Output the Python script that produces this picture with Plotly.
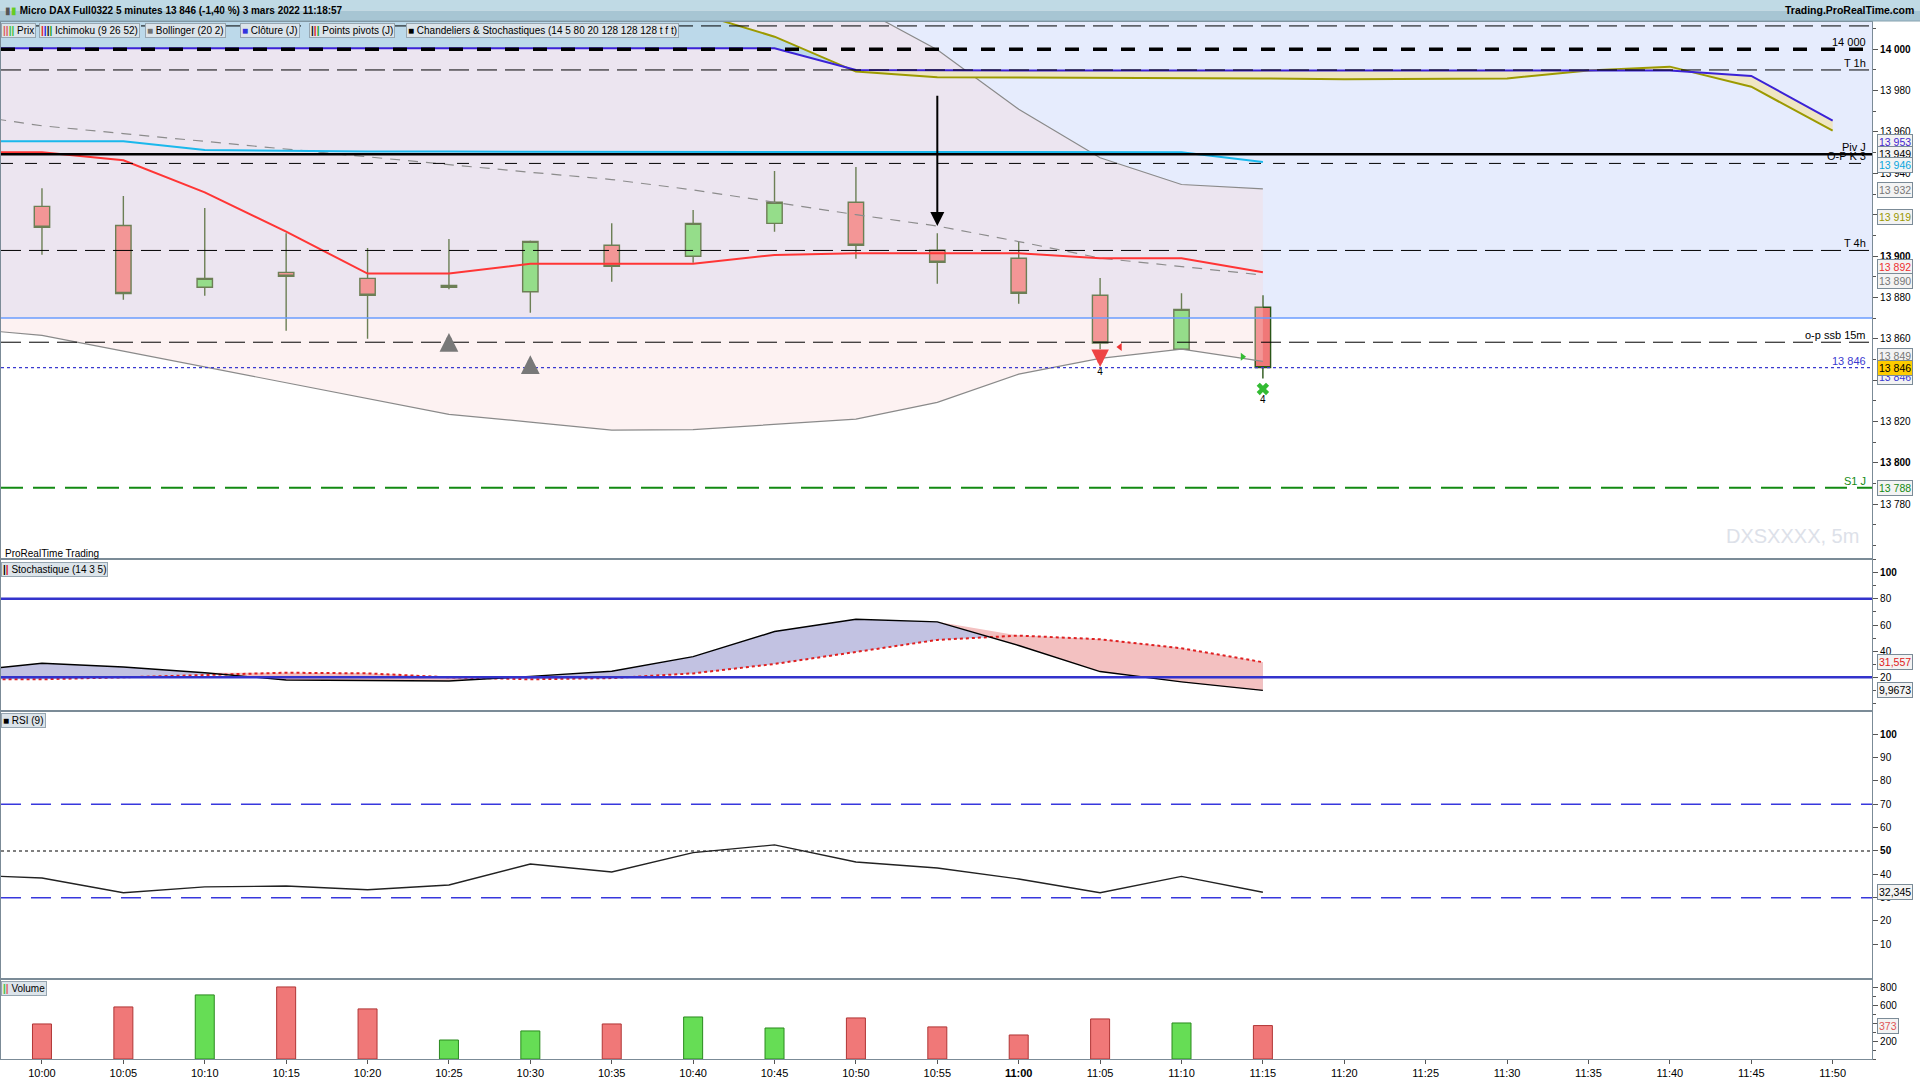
import numpy as np
import pandas as pd
import plotly.graph_objects as go
from plotly.subplots import make_subplots

DAY = "2022-03-03 "
FONT = "Liberation Sans, Arial, sans-serif"

# --- 5 minute bars -------------------------------------------------------
candle_times = ["10:00", "10:05", "10:10", "10:15", "10:20", "10:25", "10:30", "10:35",
                "10:40", "10:45", "10:50", "10:55", "11:00", "11:05", "11:10", "11:15"]
open_px = [13924.0, 13914.8, 13884.9, 13892.1, 13889.2, 13884.9, 13882.7, 13905.2,
           13899.9, 13915.8, 13926.0, 13902.8, 13898.9, 13881.0, 13854.9, 13875.2]
high_px = [13932.8, 13929.0, 13923.2, 13911.0, 13903.9, 13908.2, 13907.5, 13915.9,
           13922.3, 13941.1, 13943.1, 13911.0, 13906.9, 13889.4, 13882.0, 13881.0]
low_px = [13900.6, 13878.9, 13880.8, 13863.9, 13860.0, 13883.9, 13872.6, 13887.6,
          13896.8, 13911.8, 13898.7, 13886.6, 13876.9, 13854.9, 13854.9, 13840.7]
close_px = [13913.9, 13881.9, 13889.2, 13890.2, 13881.0, 13885.8, 13907.1, 13895.0,
            13915.8, 13926.0, 13905.2, 13897.0, 13882.0, 13857.9, 13874.2, 13846.0]
volume = [391, 581, 715, 804, 559, 212, 313, 391, 469, 346, 458, 358, 268, 447, 402, 373]

# --- indicators (one extra bar on the left, 09:55) -----------------------
ind_times = ["09:55"] + candle_times
tenkan = [13950.2, 13950.2, 13946.3, 13930.8, 13911.8, 13891.5, 13891.5, 13896.3, 13896.3,
          13896.3, 13900.5, 13901.3, 13901.3, 13901.3, 13898.9, 13898.9, 13892.1]
kijun = [13955.5, 13955.5, 13955.5, 13951.3, 13950.8, 13950.6, 13950.5, 13950.5, 13950.5,
         13950.5, 13950.4, 13950.4, 13950.3, 13950.3, 13950.2, 13950.2, 13945.5]
bb_upper = [14072.5, 14064.0, 14064.5, 14064.4, 14064.7, 14065.0, 14065.0, 14061.3, 14058.2,
            14048.0, 14033.4, 14021.0, 13999.8, 13971.0, 13947.5, 13934.6, 13932.5]
bb_mid = [13968.8, 13963.0, 13959.2, 13955.4, 13951.7, 13948.0, 13944.2, 13940.5, 13937.0,
          13932.0, 13926.0, 13920.0, 13914.5, 13907.0, 13899.0, 13895.0, 13890.8]
bb_lower = [13865.1, 13861.6, 13854.0, 13846.4, 13838.7, 13831.0, 13823.4, 13819.7, 13815.8,
            13816.0, 13818.6, 13821.1, 13829.2, 13842.9, 13850.5, 13855.0, 13849.0]
stoch_k = [24.3, 30.7, 27.9, 23.5, 17.9, 17.7, 17.2, 20.7, 24.6,
           35.8, 55.0, 64.4, 62.4, 44.3, 24.4, 16.5, 9.97]
stoch_d = [18.5, 18.5, 20.0, 22.0, 23.5, 23.0, 20.0, 18.5, 19.4,
           23.0, 30.2, 39.4, 48.6, 51.9, 49.1, 42.2, 31.56]
rsi = [39.8, 38.4, 32.1, 34.6, 35.0, 33.4, 35.4, 44.4, 41.0,
       49.3, 52.6, 45.3, 42.7, 38.0, 32.1, 39.1, 32.3]

# --- ichimoku spans, projected forward -----------------------------------
future_times = ["11:20", "11:25", "11:30", "11:35", "11:40", "11:45", "11:50"]
cloud_times = ind_times + future_times
span_a = [14000.5, 14000.5, 14000.5, 14000.5, 14000.5, 14000.5, 14000.5, 14000.5,
          14000.5, 14000.5, 14000.5, 13990.0, 13989.7, 13989.7, 13989.7, 13989.7,
          13989.7, 13989.7, 13989.7, 13989.7, 13989.7, 13989.7, 13987.1, 13965.5]
span_b = [14032.0, 14032.0, 14031.0, 14030.0, 14029.0, 14028.0, 14027.0, 14025.0,
          14022.0, 14018.0, 14006.1, 13989.2, 13986.5, 13986.3, 13986.2, 13986.0,
          13985.9, 13985.5, 13985.6, 13985.9, 13989.7, 13991.6, 13981.9, 13960.6]
zone_low = 13870.0

axis_times = candle_times + future_times

# --- horizontal levels ---------------------------------------------------
level_names = ["top", "14 000", "T 1h", "Piv J", "O-P K 3", "T 4h", "o-p ssb 15m", "13 846", "S1 J"]
level_values = [14011.3, 14000.0, 13990.0, 13949.2, 13944.8, 13902.7, 13858.3, 13846.0, 13787.9]
level_style = {
    "top": dict(color="black", width=1, dash="20px,8px", label=False),
    "14 000": dict(color="black", width=3.5, dash="14px,14px", label=True),
    "T 1h": dict(color="black", width=1, dash="20px,8px", label=True),
    "Piv J": dict(color="black", width=2.5, dash="solid", label=True),
    "O-P K 3": dict(color="black", width=1, dash="12px,12px", label=True),
    "T 4h": dict(color="black", width=1, dash="20px,8px", label=True),
    "o-p ssb 15m": dict(color="black", width=1, dash="20px,8px", label=True),
    "13 846": dict(color="#3a3ad0", width=1.2, dash="3px,3px", label=True),
    "S1 J": dict(color="#138a13", width=2, dash="22px,10px", label=True),
}

# signals
sell_arrow_time, sell_arrow_tip, sell_arrow_tail = "10:55", 13914.5, 13978.3
up_arrow_times, up_arrow_tip = ["10:25", "10:30"], [13862.8, 13852.0]
down_arrow_times, down_arrow_tip = ["11:05"], [13846.3]
cross_times, cross_y = ["11:15"], [13835.7]
count_times, count_y, count_text = ["11:05", "11:15"], [13843.9, 13830.3], ["4", "4"]
tri_left_times, tri_left_y = ["11:06:13"], [13856.0]
tri_right_times, tri_right_y = ["11:13:45"], [13851.3]

# last-value tags on the right axis
price_tags = [("13 953", 13953.0, "#4426d0", 4.7), ("13 949", 13949.3, "black", 0),
              ("13 946", 13946.0, "#0aa6df", -3.8), ("13 932", 13932.0, "#777777", 0),
              ("13 919", 13919.0, "#9a9800", 0), ("13 892", 13892.0, "#ee3030", 5.8),
              ("13 890", 13890.0, "#777777", -4.3), ("13 849", 13849.0, "#777777", 5.4),
              ("13 846", 13846.0, "#3a3ad0", -9.3), ("13 788", 13787.9, "#138a13", 0)]


def ts(t):
    return pd.Timestamp(DAY + t)


W, H = 1920, 1080
ML, MR, MT, MB = 1, 48, 22, 21
PW, PH = W - ML - MR, H - MT - MB


def px_x(p):
    return (p - ML) / PW


def px_y(p):
    return (H - MB - p) / PH


PRICE_RANGE = [13753.3, 14013.2]
X_RANGE = [DAY + "09:57:29", DAY + "11:52:25"]
AXIS_COLOR = "#7b8b97"

cx = [ts(t) for t in candle_times]
ix = [ts(t) for t in ind_times]
kx = [ts(t) for t in cloud_times]

fig = make_subplots(rows=4, cols=1, shared_xaxes=True, vertical_spacing=0.0)

# zone behind everything (light blue)
fig.add_shape(type="rect", xref="x domain", yref="y", x0=0, x1=1, y0=zone_low,
              y1=PRICE_RANGE[1], fillcolor="#e6ecfd", line_width=0, layer="below")

# Bollinger bands
fig.add_trace(go.Scatter(x=ix, y=bb_upper, mode="lines", line=dict(color="#8a8a8a", width=1.2)), row=1, col=1)
fig.add_trace(go.Scatter(x=ix, y=bb_lower, mode="lines", line=dict(color="#8a8a8a", width=1.2),
                         fill="tonexty", fillcolor="rgba(249,214,214,0.32)"), row=1, col=1)
fig.add_trace(go.Scatter(x=ix, y=bb_mid, mode="lines",
                         line=dict(color="#8c8c8c", width=1.2, dash="10px,8px")), row=1, col=1)

# Ichimoku cloud between spans
split = cloud_times.index("10:50")
fig.add_trace(go.Scatter(x=kx[:split + 1], y=span_b[:split + 1], mode="lines", line=dict(width=0)), row=1, col=1)
fig.add_trace(go.Scatter(x=kx[:split + 1], y=span_a[:split + 1], mode="lines", line=dict(width=0),
                         fill="tonexty", fillcolor="#bcd9ea"), row=1, col=1)
fig.add_trace(go.Scatter(x=kx[split:], y=span_a[split:], mode="lines", line=dict(width=0)), row=1, col=1)
fig.add_trace(go.Scatter(x=kx[split:], y=span_b[split:], mode="lines", line=dict(width=0),
                         fill="tonexty", fillcolor="#efe6c3"), row=1, col=1)
fig.add_trace(go.Scatter(x=kx, y=span_b, mode="lines", line=dict(color="#9c9a00", width=2)), row=1, col=1)
fig.add_trace(go.Scatter(x=kx, y=span_a, mode="lines", line=dict(color="#3b22d6", width=2)), row=1, col=1)

fig.add_trace(go.Scatter(x=ix, y=kijun, mode="lines", line=dict(color="#1ab8ec", width=2)), row=1, col=1)
fig.add_trace(go.Scatter(x=ix, y=tenkan, mode="lines", line=dict(color="#ff3535", width=2)), row=1, col=1)

fig.add_trace(go.Candlestick(
    x=cx, open=open_px, high=high_px, low=low_px, close=close_px, whiskerwidth=0,
    increasing=dict(fillcolor="#66e066", line=dict(color="#2a5618", width=1.4)),
    decreasing=dict(fillcolor="#f07878", line=dict(color="#2a5618", width=1.4)),
), row=1, col=1)

# signal markers
fig.add_trace(go.Scatter(x=[ts(t) for t in cross_times], y=cross_y, mode="markers",
                         marker=dict(symbol="x", size=11, color="#33bb33", line=dict(width=0))), row=1, col=1)
fig.add_trace(go.Scatter(x=[ts(t) for t in tri_left_times], y=tri_left_y, mode="markers",
                         marker=dict(symbol="triangle-left", size=7, color="#ee3333")), row=1, col=1)
fig.add_trace(go.Scatter(x=[ts(t) for t in tri_right_times], y=tri_right_y, mode="markers",
                         marker=dict(symbol="triangle-right", size=7, color="#33bb33")), row=1, col=1)
fig.add_trace(go.Scatter(x=[ts(t) for t in count_times], y=count_y, mode="text", text=count_text,
                         textfont=dict(size=10, color="black", family=FONT)), row=1, col=1)
for t, y in zip(up_arrow_times, up_arrow_tip):
    fig.add_annotation(x=ts(t), y=y, xref="x", yref="y", ax=0, ay=17, text="", showarrow=True,
                       arrowhead=2, arrowsize=0.75, arrowwidth=5, arrowcolor="#787878")
for t, y in zip(down_arrow_times, down_arrow_tip):
    fig.add_annotation(x=ts(t), y=y, xref="x", yref="y", ax=0, ay=-15, text="", showarrow=True,
                       arrowhead=2, arrowsize=0.7, arrowwidth=5, arrowcolor="#ee4444")

# horizontal levels
fig.add_shape(type="line", xref="x domain", yref="y", x0=0, x1=1, y0=zone_low, y1=zone_low,
              line=dict(color="#6a9cff", width=1.5), layer="above")
for name, val in zip(level_names, level_values):
    st = level_style[name]
    fig.add_shape(type="line", xref="x domain", yref="y", x0=0, x1=1, y0=val, y1=val,
                  line=dict(color=st["color"], width=st["width"], dash=st["dash"]), layer="above")
    if st["label"]:
        fig.add_annotation(xref="paper", yref="y", x=px_x(1867), y=val, xanchor="right",
                           yanchor="bottom", text=name, showarrow=False, borderpad=0,
                           font=dict(size=11, color=st["color"], family=FONT))

fig.add_annotation(x=ts(sell_arrow_time), y=sell_arrow_tip, ax=ts(sell_arrow_time),
                   ay=sell_arrow_tail, xref="x", yref="y", axref="x", ayref="y", text="",
                   showarrow=True, arrowhead=2, arrowsize=1.4, arrowwidth=2, arrowcolor="black")

# --- stochastic ------------------------------------------------------------
stoch_top = np.maximum(stoch_k, stoch_d)
fig.add_trace(go.Scatter(x=ix, y=stoch_d, mode="lines", line=dict(width=0)), row=2, col=1)
fig.add_trace(go.Scatter(x=ix, y=stoch_k, mode="lines", line=dict(width=0),
                         fill="tonexty", fillcolor="#c2c2e2"), row=2, col=1)
fig.add_trace(go.Scatter(x=ix, y=stoch_k, mode="lines", line=dict(width=0)), row=2, col=1)
fig.add_trace(go.Scatter(x=ix, y=stoch_top, mode="lines", line=dict(width=0),
                         fill="tonexty", fillcolor="#f3c1c1"), row=2, col=1)
fig.add_trace(go.Scatter(x=ix, y=stoch_d, mode="lines",
                         line=dict(color="#e02020", width=2, dash="dot")), row=2, col=1)
fig.add_trace(go.Scatter(x=ix, y=stoch_k, mode="lines", line=dict(color="black", width=1.4)), row=2, col=1)
for lvl in [80, 20]:
    fig.add_shape(type="line", xref="x2 domain", yref="y2", x0=0, x1=1, y0=lvl, y1=lvl,
                  line=dict(color="#3333cc", width=2.5), layer="above")

# --- RSI -------------------------------------------------------------------
for lvl, col, dash, wd in [(70, "#3838dd", "20px,10px", 1.5), (30, "#3838dd", "20px,10px", 1.5),
                           (50, "black", "3px,3px", 1.2)]:
    fig.add_shape(type="line", xref="x3 domain", yref="y3", x0=0, x1=1, y0=lvl, y1=lvl,
                  line=dict(color=col, width=wd, dash=dash), layer="below")
fig.add_trace(go.Scatter(x=ix, y=rsi, mode="lines", line=dict(color="#222222", width=1.4)), row=3, col=1)

# --- volume ------------------------------------------------------------------
up = [c >= o for o, c in zip(open_px, close_px)]
fig.add_trace(go.Bar(x=cx, y=volume, width=70000,
                     marker=dict(color=["#66dd55" if u else "#f07878" for u in up],
                                 line=dict(color=["#2a8a1e" if u else "#b03535" for u in up], width=1))),
              row=4, col=1)

# --- axes ------------------------------------------------------------------
fig.update_xaxes(range=X_RANGE, showgrid=False, zeroline=False, showline=True, mirror=True,
                 linecolor=AXIS_COLOR, linewidth=1, rangeslider_visible=False, ticks="")
fig.update_xaxes(row=4, col=1, tickvals=[ts(t) for t in axis_times],
                 ticktext=["<b>11:00</b>" if t == "11:00" else t for t in axis_times],
                 ticks="outside", ticklen=4, tickcolor="#555555", showticklabels=True,
                 tickfont=dict(size=11, family=FONT, color="black"))
fig.update_yaxes(side="right", showgrid=False, zeroline=False, showline=True, mirror=True,
                 linecolor=AXIS_COLOR, linewidth=1.2, ticks="outside", ticklen=5,
                 tickcolor="#555555", tickfont=dict(size=10, family=FONT, color="black"),
                 fixedrange=True)

price_ticks = [13780, 13800, 13820, 13840, 13860, 13880, 13900, 13920, 13940, 13960, 13980, 14000]
bold_price = [13800, 13900, 14000]
fig.update_yaxes(row=1, col=1, domain=[px_y(559.3), 1.0], range=PRICE_RANGE, tickvals=price_ticks,
                 ticktext=[("<b>%s</b>" if v in bold_price else "%s") % f"{v:,}".replace(",", " ")
                           for v in price_ticks],
                 minor=dict(ticks="outside", ticklen=3, dtick=10, tick0=0, tickcolor="#555555"))
fig.update_yaxes(row=2, col=1, domain=[px_y(711), px_y(559.3)], range=[-5.77, 110.25],
                 tickvals=[20, 40, 60, 80, 100], ticktext=["20", "40", "60", "80", "<b>100</b>"],
                 minor=dict(ticks="outside", ticklen=3, dtick=10, tick0=0, tickcolor="#555555"))
fig.update_yaxes(row=3, col=1, domain=[px_y(978.7), px_y(711)], range=[-4.74, 110.0],
                 tickvals=[10, 20, 30, 40, 50, 60, 70, 80, 90, 100],
                 ticktext=["10", "20", "30", "40", "<b>50</b>", "60", "70", "80", "90", "<b>100</b>"])
fig.update_yaxes(row=4, col=1, domain=[0.0, px_y(978.7)], range=[0, 896],
                 tickvals=[200, 400, 600, 800], ticktext=["200", "400", "600", "800"],
                 minor=dict(ticks="outside", ticklen=3, dtick=100, tick0=0, tickcolor="#555555"))

# --- right-axis value tags --------------------------------------------------
TAG_X = px_x(1877)


def tag(text, y, yref, color, shift=0, bg="#f3f3f3"):
    fig.add_annotation(xref="paper", yref=yref, x=TAG_X, y=y, xanchor="left", yanchor="middle",
                       text=text, showarrow=False, yshift=shift, bgcolor=bg, bordercolor=AXIS_COLOR,
                       borderwidth=1, borderpad=1, font=dict(size=10.5, color=color, family=FONT))


for text, y, color, shift in price_tags:
    tag(text, y, "y", color, shift)
tag("13 846", close_px[-1], "y", "black", 0, bg="#ffcc00")
tag("31,557", stoch_d[-1], "y2", "#e02020")
tag("9,9673", stoch_k[-1], "y2", "black")
tag("32,345", rsi[-1], "y3", "black")
tag("373", volume[-1], "y4", "#e05555")

# --- header and panel captions ---------------------------------------------
fig.add_shape(type="rect", xref="paper", yref="paper", x0=px_x(0), x1=px_x(W), y0=px_y(10.5), y1=px_y(0),
              fillcolor="#c0dae5", line_width=0, layer="above")
fig.add_shape(type="rect", xref="paper", yref="paper", x0=px_x(0), x1=px_x(W), y0=px_y(21), y1=px_y(10.5),
              fillcolor="#a7c5d3", line_width=0, layer="above")
fig.add_shape(type="line", xref="paper", yref="paper", x0=px_x(0), x1=px_x(W), y0=px_y(21), y1=px_y(21),
              line=dict(color="#86a1ae", width=1), layer="above")
fig.add_annotation(xref="paper", yref="paper", x=px_x(3), y=px_y(10.5), xanchor="left", yanchor="middle",
                   showarrow=False, font=dict(size=10, family=FONT, color="black"),
                   text="<span style='color:#555555'>▮</span><span style='color:#66cc22'>▮</span> "
                        "<b>Micro DAX Full0322 5 minutes 13 846 (-1,40 %) 3 mars 2022 11:18:57</b>")
fig.add_annotation(xref="paper", yref="paper", x=px_x(1916), y=px_y(10.5), xanchor="right", yanchor="middle",
                   showarrow=False, text="<b>Trading.ProRealTime.com</b>",
                   font=dict(size=10.5, family=FONT, color="black"))


def caption(left, top, text):
    fig.add_annotation(xref="paper", yref="paper", x=px_x(left), y=px_y(top), xanchor="left",
                       yanchor="top", showarrow=False, text=text, bgcolor="#dce4ea",
                       bordercolor="#97a6b1", borderwidth=1, borderpad=1,
                       font=dict(size=10, family=FONT, color="black"))


def icon(*colors):
    return "".join(f"<span style='color:{c}'><b>|</b></span>" for c in colors) + " "


def square(color):
    return f"<span style='color:{color}'>■</span> "


legend_items = [(1, icon("#e06060", "#e06060", "#40c040", "#40c040") + "Prix"),
                (39, icon("#e02020", "#2020e0", "#101010", "#20a020") + "Ichimoku (9 26 52)"),
                (145, square("#707070") + "Bollinger (20 2)"),
                (240, square("#3333dd") + "Clôture (J)"),
                (309, icon("#111111", "#dd2020", "#20a020") + "Points pivots (J)"),
                (406, square("#000000") + "Chandeliers &amp; Stochastiques (14 5 80 20 128 128 128 t f t)")]
for left, text in legend_items:
    caption(left, 22.5, text)
caption(1, 561.5, icon("#000000", "#dd2020") + "Stochastique (14 3 5)")
caption(1, 713, square("#000000") + "RSI (9)")
caption(1, 981, icon("#40c040", "#e06060") + "Volume")

fig.add_annotation(xref="paper", yref="paper", x=px_x(3), y=px_y(553), xanchor="left", yanchor="middle",
                   showarrow=False, text="ProRealTime Trading", font=dict(size=10, family=FONT, color="black"))
fig.add_annotation(xref="paper", yref="paper", x=px_x(1861), y=px_y(536), xanchor="right", yanchor="middle",
                   showarrow=False, text="DXSXXXX, 5m", font=dict(size=20, family=FONT, color="#dde1e9"))

fig.update_layout(width=W, height=H, margin=dict(l=ML, r=MR, t=MT, b=MB), plot_bgcolor="white",
                  paper_bgcolor="white", showlegend=False, boxgap=0.73, hovermode=False,
                  font=dict(family=FONT, size=11, color="black"))

fig.write_html("out.html", config={"displayModeBar": False},
               post_script="document.body.style.margin='0';document.body.style.overflow='hidden';")
